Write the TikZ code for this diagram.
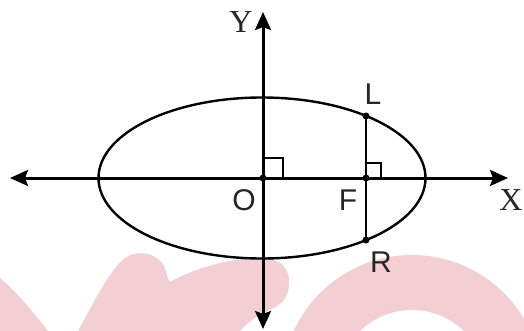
\documentclass[tikz,border=0pt]{standalone}
\usepackage{fontspec}
\newfontfamily\sansf{Liberation Sans}
\newfontfamily\seriff{Liberation Serif}
\usetikzlibrary{arrows.meta}
\definecolor{wm}{RGB}{243,206,210}
\tikzset{
  axisline/.style={line width=3pt, {Stealth[length=18pt,width=16pt,inset=3pt]}-{Stealth[length=18pt,width=16pt,inset=3pt]}},
  curveline/.style={line width=2.4pt},
  rightmark/.style={line width=2pt},
  dotpt/.style={fill=black, circle, inner sep=0pt, minimum size=7pt},
  sanslabel/.style={font=\sansf\fontsize{30}{30}\selectfont, inner sep=0pt, text=black!85},
  seriflabel/.style={font=\seriff\fontsize{32}{32}\selectfont, inner sep=0pt, text=black!85}
}
\begin{document}
\begin{tikzpicture}[x=1pt,y=-1pt]
\useasboundingbox (0,0) rectangle (524,331);
\fill[white] (0,0) rectangle (524,331);
% watermark
\fill[wm] (0,278) .. controls (20,295) and (35,315) .. (48,331) -- (0,331) -- cycle;
\fill[wm] (78,331) .. controls (95,300) and (110,270) .. (125,258) .. controls (140,248) and (160,255) .. (165,268) .. controls (167,275) and (168,280) .. (170,282) .. controls (195,268) and (230,258) .. (262,258) .. controls (280,258) and (290,268) .. (289,285) .. controls (288,300) and (280,306) .. (265,312) .. controls (255,317) and (245,325) .. (240,331) -- cycle;
\fill[wm, even odd rule] (412,385) circle[radius=130] (412,385) circle[radius=75];
% points
\coordinate (O) at (263,178);
\coordinate (F) at (366,178);
\coordinate (L) at (366,116);
\coordinate (R) at (366,240);
\coordinate (xl) at (10,178);
\coordinate (xr) at (508,178);
\coordinate (yt) at (263,12);
\coordinate (yb) at (263,329);
% ellipse
\draw[curveline] (262,178) ellipse [x radius=163.5, y radius=80.5];
% axes
\draw[axisline] (xl) -- (xr);
\draw[axisline] (yb) -- (yt);
% latus rectum
\draw[line width=2.2pt] (L) -- (R);
% right-angle marks
\draw[rightmark] ([yshift=20pt]O) -- ++(20,0) -- ++(0,20);
\draw[rightmark] ([yshift=15pt]F) -- ++(15,0) -- ++(0,15);
% dots
\node[dotpt] (dO) at (O) {};
\node[dotpt] (dF) at (F) {};
\node[dotpt] (dL) at (L) {};
\node[dotpt] (dR) at (R) {};
% labels
\node[seriflabel] (lY) at (241,22) {Y};
\node[seriflabel] (lX) at (511,200) {X};
\node[sanslabel] (lO) at (244,200) {O};
\node[sanslabel] (lF) at (348,200) {F};
\node[sanslabel] (lL) at (373,94) {L};
\node[sanslabel] (lR) at (381,262) {R};
\end{tikzpicture}
\end{document}
